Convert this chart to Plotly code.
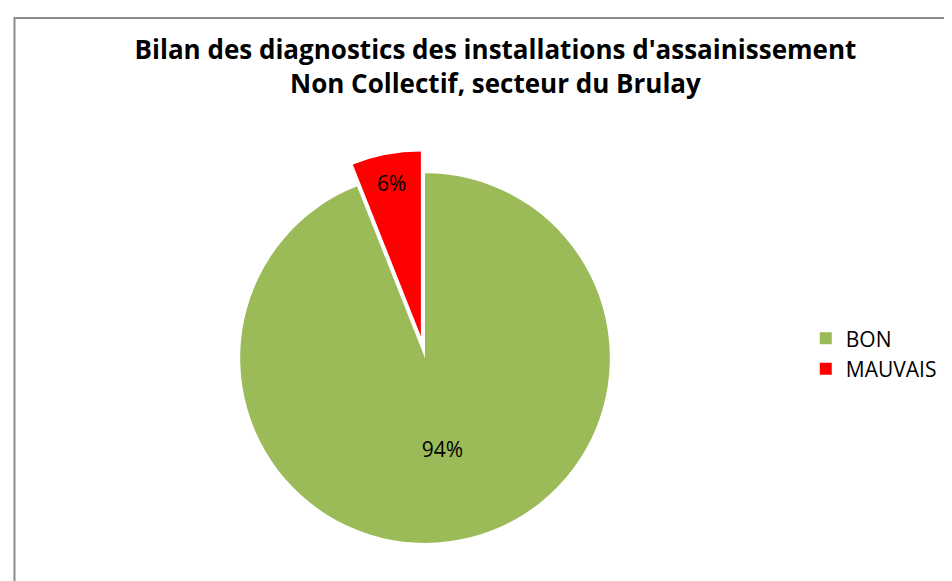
import plotly.graph_objects as go

labels = ["BON", "MAUVAIS"]
values = [94, 6]
colors = ["#9BBB59", "#FF0000"]
title_lines = ["Bilan des diagnostics des installations d'assainissement",
               "Non Collectif, secteur du Brulay"]

fig = go.Figure(go.Pie(
    labels=labels,
    values=values,
    sort=False,
    direction="clockwise",
    rotation=0,
    pull=[0, 0.12],
    marker=dict(colors=colors, line=dict(color="white", width=0)),
    texttemplate="%{percent:.0%}",
    textposition="inside",
    insidetextorientation="horizontal",
    textfont=dict(family="Open Sans", size=21, color="black"),
    domain=dict(x=[0.2206, 0.6555], y=[0.041, 0.754]),
    hoverinfo="label+percent",
))

fig.update_layout(
    width=952, height=581,
    margin=dict(l=0, r=0, t=0, b=0),
    paper_bgcolor="white",
    title=dict(
        text="<b>" + "<br>".join(title_lines) + "</b>",
        x=0.512, xanchor="center", y=0.912, yanchor="top",
        font=dict(family="Open Sans", size=26, color="black"),
    ),
    legend=dict(
        x=0.838, y=0.405, xanchor="left", yanchor="middle",
        font=dict(family="Open Sans", size=21, color="black"),
        itemwidth=30,
    ),
    shapes=[dict(type="rect", xref="paper", yref="paper",
                 x0=0.0068, x1=0.9965, y0=-0.1, y1=0.983,
                 line=dict(color="#8c8c8c", width=2), fillcolor="rgba(0,0,0,0)")],
)

fig.write_html("out.html")
